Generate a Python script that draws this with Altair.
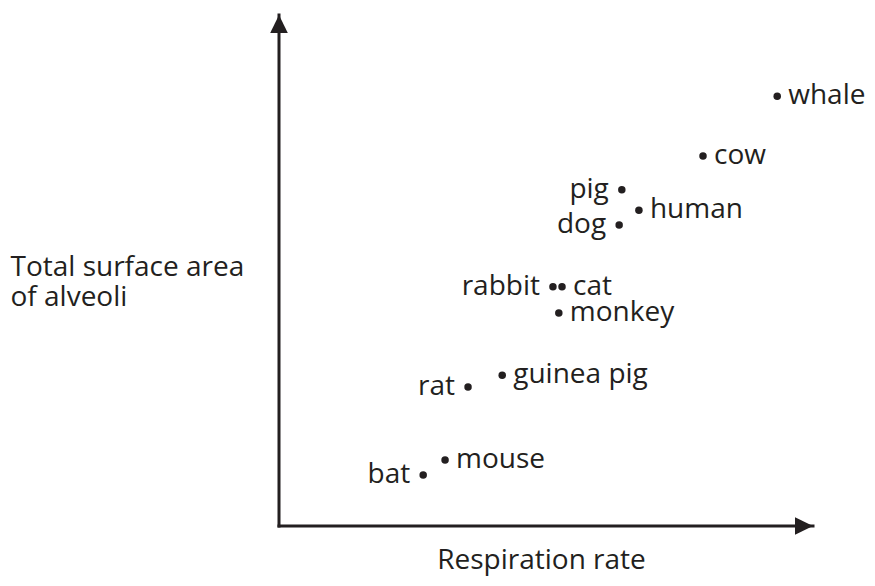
import altair as alt
import pandas as pd

# ---- data (arbitrary 0-100 units on each axis) ----
animals = ["whale", "cow", "pig", "human", "dog", "rabbit", "cat", "monkey",
           "guinea pig", "rat", "mouse", "bat"]
respiration = [93.3, 79.4, 64.2, 67.4, 63.7, 51.3, 53.0, 52.4, 41.8, 35.4, 31.1, 27.0]
surface_area = [84.1, 72.4, 65.8, 61.8, 58.9, 46.8, 46.8, 41.7, 29.5, 27.2, 12.9, 10.0]
label_side = ["right", "right", "left", "right", "left", "left", "right", "right",
              "right", "left", "right", "left"]

x_title = "Respiration rate"
y_title = ["Total surface area", "of alveoli"]

INK = "#231f20"
FONT = "Open Sans"
FS = 28

df = pd.DataFrame({"x": respiration, "y": surface_area,
                   "animal": animals, "side": label_side})

xs = alt.Scale(domain=[0, 100], nice=False, zero=False)
ys = alt.Scale(domain=[0, 100], nice=False, zero=False)

xaxis = alt.Axis(domain=False, ticks=False, labels=False, grid=False,
                 title=x_title, titleFont=FONT, titleFontSize=FS,
                 titleFontWeight="normal", titleColor=INK,
                 titleX=262, titleY=42, titleAlign="center",
                 titleBaseline="alphabetic")
yaxis = alt.Axis(domain=False, ticks=False, labels=False, grid=False,
                 title=y_title, titleFont=FONT, titleFontSize=FS,
                 titleFontWeight="normal", titleColor=INK, titleAngle=0,
                 titleX=-269, titleY=260, titleAlign="left",
                 titleBaseline="alphabetic", titleLineHeight=30)

X = lambda f="x:Q": alt.X(f, scale=xs, axis=xaxis)
Y = lambda f="y:Q": alt.Y(f, scale=ys, axis=yaxis)

# axis lines
axis_df = pd.DataFrame({"x": [0, 0], "x2": [100, 0], "y": [0, 0], "y2": [0, 100]})
rules = alt.Chart(axis_df).mark_rule(strokeWidth=3, color=INK, strokeCap="square").encode(
    x=X(), x2="x2:Q", y=Y(), y2="y2:Q")

# arrow heads
right_head = alt.Chart(pd.DataFrame({"x": [100], "y": [0]})).mark_point(
    shape="M0,0L-1,-0.49L-1,0.49Z", filled=True, size=1296, color=INK,
    opacity=1, strokeWidth=0).encode(x=X(), y=Y())
up_head = alt.Chart(pd.DataFrame({"x": [0], "y": [100]})).mark_point(
    shape="M0,0L-0.49,1L0.49,1Z", filled=True, size=1296, color=INK,
    opacity=1, strokeWidth=0).encode(x=X(), y=Y())

base = alt.Chart(df)
points = base.mark_circle(size=56, color=INK, opacity=1).encode(x=X(), y=Y())

labels_right = base.transform_filter(alt.datum.side == "right").mark_text(
    align="left", baseline="middle", dx=11, font=FONT, fontSize=FS, color=INK
).encode(x=X(), y=Y(), text="animal:N")
labels_left = base.transform_filter(alt.datum.side == "left").mark_text(
    align="right", baseline="middle", dx=-13, font=FONT, fontSize=FS, color=INK
).encode(x=X(), y=Y(), text="animal:N")

chart = alt.layer(rules, right_head, up_head, points, labels_right, labels_left).properties(
    width=534, height=511,
    padding={"left": 271, "top": 7, "right": 54, "bottom": 54},
    autosize=alt.AutoSizeParams(type="none"),
).configure_view(stroke=None)

chart.save("out.html", embed_options={"renderer": "svg", "actions": False})
